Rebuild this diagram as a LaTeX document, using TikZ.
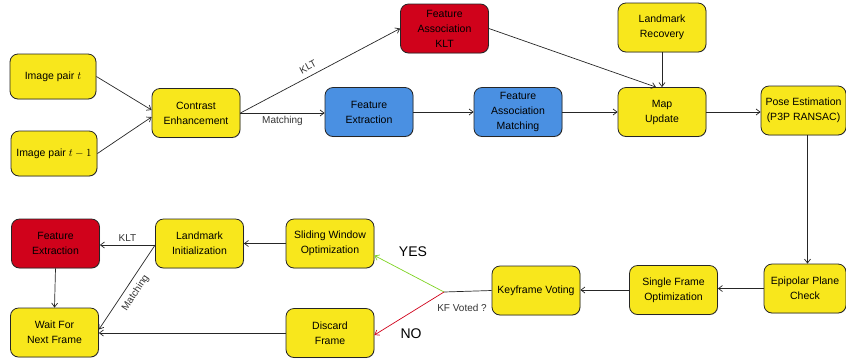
\documentclass[tikz,border=0pt]{standalone}
\usepackage{amsmath}
\usepackage{fontspec}
\setmainfont{Liberation Sans}
\usetikzlibrary{arrows.meta,shadows}

\definecolor{stageyellow}{HTML}{F8E71C}
\definecolor{stageblue}{HTML}{4A90E2}
\definecolor{stagered}{HTML}{D0021B}
\definecolor{yesgreen}{HTML}{7ED321}

\begin{document}
\begin{tikzpicture}[x=1pt, y=-1pt,
    stage/.style={draw=black!85, line width=0.8pt, rounded corners=8pt, align=center,
        minimum width=88pt, minimum height=49pt, inner sep=1pt,
        font=\fontsize{10.5}{15}\selectfont,
        drop shadow={shadow xshift=0.6pt, shadow yshift=-0.6pt, opacity=0.35}},
    yellowbox/.style={stage, fill=stageyellow},
    bluebox/.style={stage, fill=stageblue},
    redbox/.style={stage, fill=stagered},
    plain/.style={draw=black!85, line width=0.7pt},
    link/.style={plain, ->, >={Straight Barb[length=4pt,width=6pt]}},
    lbl/.style={font=\fontsize{10}{12}\selectfont, text=black!80},
    vote/.style={font=\fontsize{14}{16}\selectfont}]
    \useasboundingbox (0,0) rectangle (846,360);

    % top row
    \node[yellowbox, minimum width=86pt, minimum height=45pt] (imgt) at (53,76.5) {Image pair $t$};
    \node[yellowbox, minimum width=86pt, minimum height=45pt] (imgtt) at (54,153.5) {Image pair $t-1$};
    \node[yellowbox] (ce) at (196,113) {Contrast\\Enhancement};
    \node[redbox] (fak) at (444.5,28.5) {Feature\\Association\\KLT};
    \node[bluebox] (fe) at (369,112) {Feature\\Extraction};
    \node[bluebox] (fam) at (518,112) {Feature\\Association\\Matching};
    \node[yellowbox] (lr) at (662,27.5) {Landmark\\Recovery};
    \node[yellowbox] (mu) at (662,112) {Map\\Update};
    \node[yellowbox, minimum width=85pt] (pe) at (803.5,110.5) {Pose Estimation\\(P3P RANSAC)};

    % bottom row
    \node[yellowbox, minimum width=82pt] (epc) at (805,288.5) {Epipolar Plane\\Check};
    \node[yellowbox] (sfo) at (673.5,290) {Single Frame\\Optimization};
    \node[yellowbox] (kv) at (536,290.5) {Keyframe Voting};
    \node[yellowbox] (swo) at (330,243.5) {Sliding Window\\Optimization};
    \node[yellowbox] (dis) at (330,333) {Discard\\Frame};
    \node[yellowbox] (li) at (199.5,243.5) {Landmark\\Initialization};
    \node[redbox] (fer) at (55.5,243.5) {Feature\\Extraction};
    \node[yellowbox] (wnf) at (54.5,332.5) {Wait For\\Next Frame};
    \coordinate (kf) at (444,292);

    \draw[link] (imgt.east) -- ([yshift=3pt]ce.west);
    \draw[link] (imgtt.east) -- ([yshift=-4pt]ce.west);
    \draw[link] (ce.east) -- (fak.west) node[lbl, pos=0.45, sloped, above=2pt] {KLT};
    \draw[link] (ce.east) -- (ce.east -| fe.west) node[lbl, midway, below] {Matching};
    \draw[link] (fe.east) -- (fam.west);
    \draw[link] (fam.east) -- (mu.west);
    \draw[link] (fak.east) -- ([xshift=-6pt]mu.north);
    \draw[link] (lr.south) -- (mu.north);
    \draw[link] (mu.east) -- (mu.east -| pe.west);
    \draw[link] ([xshift=4pt]pe.south) -- ([xshift=4pt]pe.south |- epc.north);
    \draw[link] (epc.west) -- (epc.west -| sfo.east);
    \draw[link] (sfo.west) -- (sfo.west -| kv.east);

    % keyframe decision
    \draw[plain] (kv.west) -- (kf);
    \node[lbl] (kfq) at (462,308) {KF Voted ?};
    \draw[link, draw=yesgreen] (kf) -- ([yshift=-12pt]swo.east);
    \draw[link, draw=stagered] (kf) -- ([yshift=-2pt]dis.east);
    \node[vote] (yes) at (413,252) {YES};
    \node[vote] (no) at (411,334) {NO};

    \draw[link] (swo.west) -- (li.east);
    \draw[link] ([yshift=-1.5pt]li.west) -- ([yshift=-1.5pt]li.west -| fer.east) node[lbl, midway, above] {KLT};
    \draw[link] ([yshift=-1.5pt]li.west) -- ([yshift=3pt]wnf.east) node[lbl, midway, sloped, below=2pt] {Matching};
    \draw[link] (fer.south) -- (wnf.north);
    \draw[link] (dis.west) -- (dis.west -| wnf.east);
\end{tikzpicture}
\end{document}
